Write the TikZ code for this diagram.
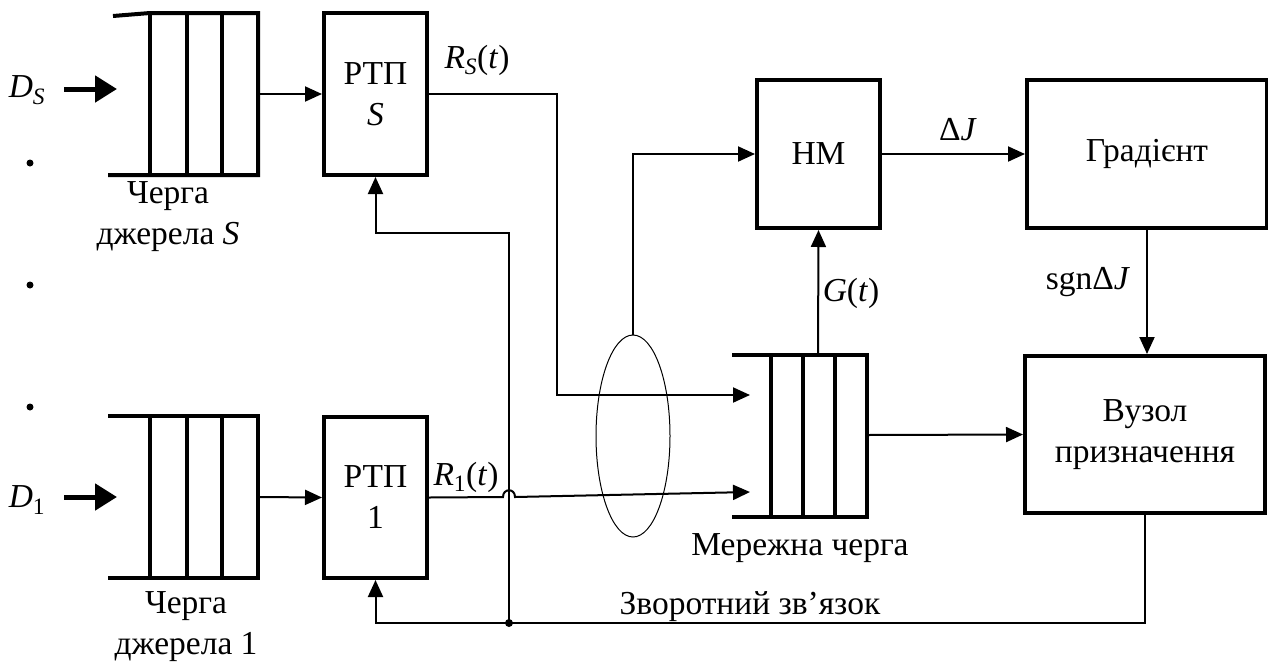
\documentclass[tikz,border=0pt]{standalone}
\usepackage{fontspec}
\setmainfont{Liberation Serif}
\usepackage{tikz}
\usetikzlibrary{positioning, arrows.meta, shapes.geometric}

\tikzset{
  blok/.style={draw, line width=4pt, inner sep=0pt, align=center},
  tonka/.style={line width=2pt},
  strilka/.style={tonka, -{Triangle[length=17pt, width=15pt]}},
  vhid/.style={line width=5pt, -{Triangle[length=22pt, width=26pt]}},
  cherha/.style={line width=4pt},
  napys/.style={inner sep=0pt, align=center}
}

\begin{document}
\begin{tikzpicture}[x=1pt, y=-1pt, every node/.style={font=\fontsize{33.5}{41}\selectfont}]
    \useasboundingbox (0,0) rectangle (1268,662);
    % Source queues
    \draw[cherha] (113,16) -- (150,13) -- (258,13) -- (258,175) -- (108,175);
    \draw[cherha] (108,416) -- (258,416) -- (258,578) -- (108,578);
    \foreach \x in {150,187,222} {
        \draw[cherha] (\x,13) -- (\x,175);
        \draw[cherha] (\x,416) -- (\x,578);
    }
    \coordinate (chS) at (258,94);
    \coordinate (ch1) at (258,497);
    \node[napys] (chSnap) at (168,217) {Черга\\джерела \textit{S}};
    \node[napys] (ch1nap) at (186,627) {Черга\\джерела 1};
    % Inputs
    \node[napys] (dS) at (27,90) {\textit{D}\textsubscript{\textit{S}}};
    \node[napys] (d1) at (27,500) {\textit{D}\textsubscript{1}};
    \draw[vhid] (64,89) -- (117,89);
    \draw[vhid] (64,497) -- (117,497);
    \foreach \y in {163,285,407} \fill (30,\y) circle (3.5pt);
    % Blocks
    \node[blok, minimum width=103pt, minimum height=162pt] (rtpS) at (375.5,94) {РТП\\\textit{S}};
    \node[blok, minimum width=103pt, minimum height=161pt] (rtp1) at (375.5,497.5) {РТП\\1};
    \node[blok, minimum width=123pt, minimum height=148pt] (hm) at (818.5,154) {НМ};
    \node[blok, minimum width=240pt, minimum height=148pt] (grad) at (1147,154) {Градієнт};
    \node[blok, minimum width=240pt, minimum height=157pt] (vuzol) at (1145,434.5) {Вузол\\призначення};
    % Network queue
    \draw[cherha] (732,355) -- (867,355) -- (867,517) -- (732,517);
    \foreach \x in {771,803,835} \draw[cherha] (\x,355) -- (\x,517);
    \coordinate (mqS) at (750,395);
    \coordinate (mq1) at (750,492);
    \coordinate (mqVerh) at (818,355);
    \coordinate (mqVyh) at (867,435);
    \node[napys] (mqnap) at (800,548) {Мережна черга};
    % Bundle
    \node[draw, ellipse, line width=1pt, minimum width=74pt, minimum height=202pt] (puchok) at (633,436) {};
    % Connectors
    \draw[strilka] (chS) -- (rtpS.west);
    \draw[strilka] (ch1) -- (rtp1.west);
    \coordinate (rsV) at (557,395);
    \draw[strilka] (rtpS.east) -| (rsV) -- (mqS);
    \node[napys] (rS) at (477,60) {\textit{R}\textsubscript{\textit{S}}(\textit{t})};
    \draw[strilka] (rtp1.east) -- (503,497) .. controls (503,488) and (515,488) .. (515,497) -- (mq1);
    \node[napys] (r1) at (466,477) {\textit{R}\textsubscript{1}(\textit{t})};
    \draw[strilka] (puchok.north) |- (hm.west);
    \draw[strilka] (mqVerh) -- (hm.south);
    \node[napys] (g) at (851,293) {\textit{G}(\textit{t})};
    \draw[strilka] (hm.east) -- (grad.west);
    \node[napys] (dJ) at (958,130) {Δ\textit{J}};
    \draw[strilka] (grad.south) -- (grad.south |- vuzol.north);
    \node[napys] (sgn) at (1088,282) {sgnΔ\textit{J}};
    \draw[strilka] (mqVyh) -- (vuzol.west);
    % Feedback
    \coordinate (zv) at (509,623);
    \coordinate (zvS) at (509,233);
    \draw[strilka] (vuzol.south) |- (zv) -| (rtp1.south);
    \draw[strilka] (zv) -- (zvS) -| (rtpS.south);
    \fill (zv) circle (4pt);
    \node[napys] (zvnap) at (750,607) {Зворотний зв’язок};
\end{tikzpicture}
\end{document}
